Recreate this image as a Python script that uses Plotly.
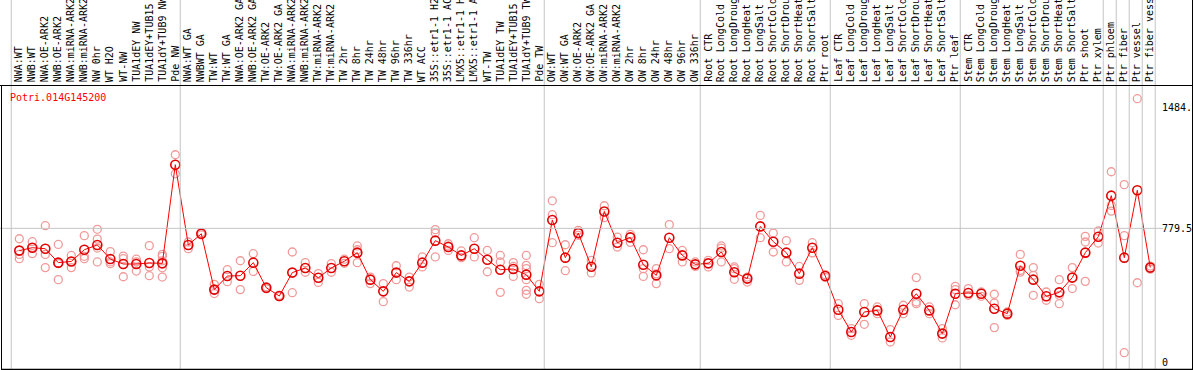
import plotly.graph_objects as go

labels = [
    "NWA:WT", "NWB:WT", "NWA:OE-ARK2", "NWB:OE-ARK2", "NWA:miRNA-ARK2", "NWB:miRNA-ARK2",
    "NW 0hr", "WT H2O", "WT-NW", "TUA1dEY NW", "TUA1dEY+TUB15 NW", "TUA1dY+TUB9 NW", "Pde NW",
    "NWA:WT GA", "NWBWT GA", "TW:WT", "TW:WT GA", "NWA:OE-ARK2 GA", "NWB:OE-ARK2 GA",
    "TW:OE-ARK2", "TW:OE-ARK2 GA", "NWA:miRNA-ARK2 GA", "NWB:miRNA-ARK2 GA", "TW:miRNA-ARK2",
    "TW:miRNA-ARK2 GA", "TW 2hr", "TW 8hr", "TW 24hr", "TW 48hr", "TW 96hr", "TW 336hr",
    "WT ACC", "35S::etr1-1 H2O", "35S::etr1-1 ACC", "LMX5::etr1-1 H2O", "LMX5::etr1-1 ACC",
    "WT-TW", "TUA1dEY TW", "TUA1dEY+TUB15 TW", "TUA1dY+TUB9 TW", "Pde TW",
    "OW:WT", "OW:WT GA", "OW:OE-ARK2", "OW:OE-ARK2 GA", "OW:miRNA-ARK2", "OW:miRNA-ARK2 GA",
    "OW 2hr", "OW 8hr", "OW 24hr", "OW 48hr", "OW 96hr", "OW 336hr",
    "Root CTR", "Root LongCold", "Root LongDrought", "Root LongHeat", "Root LongSalt",
    "Root ShortCold", "Root ShortDrought", "Root ShortHeat", "Root ShortSalt", "Ptr root",
    "Leaf CTR", "Leaf LongCold", "Leaf LongDrought", "Leaf LongHeat", "Leaf LongSalt",
    "Leaf ShortCold", "Leaf ShortDrought", "Leaf ShortHeat", "Leaf ShortSalt", "Ptr leaf",
    "Stem CTR", "Stem LongCold", "Stem LongDrought", "Stem LongHeat", "Stem LongSalt",
    "Stem ShortCold", "Stem ShortDrought", "Stem ShortHeat", "Stem ShortSalt", "Ptr shoot",
    "Ptr xylem", "Ptr phloem", "Ptr fiber", "Ptr vessel", "Ptr fiber vessel",
]

means = [
    650, 667, 661, 580, 587, 655, 683, 601, 572, 572, 578, 576, 1150,
    683, 748, 423, 502, 504, 580, 434, 386, 522, 549, 492, 549, 588, 638, 481, 413,
    522, 471, 580, 708, 671, 622, 661, 597, 539, 543, 510, 413,
    828, 609, 752, 556, 878, 696, 727, 568, 506, 725, 622, 570,
    576, 642, 524, 487, 791, 702, 638, 516, 667, 502,
    306, 176, 293, 302, 147, 306, 399, 302, 167, 399,
    403, 399, 312, 283, 562, 481, 384, 407, 493, 638,
    731, 970, 609, 1001, 551,
]

replicates = [
    [719, 628, 603], [702, 667, 632], [795, 628, 551], [686, 575, 481], [622, 587, 551],
    [737, 617, 603], [774, 717, 665, 584], [644, 584, 574], [618, 603, 498], [600, 585, 531],
    [679, 555, 504], [628, 617, 590, 550, 496], [1208, 1097],
    [700, 661], [755, 741], [454, 420, 400], [539, 469], [591, 423], [632, 529], [440, 428],
    [390, 382], [642, 405], [580, 524], [516, 465], [574, 524], [600, 576], [677, 655, 580],
    [496, 458], [458, 353], [562, 481], [496, 438], [613, 555], [772, 752, 613],
    [690, 677, 651], [648, 609], [725, 613], [651, 527], [622, 584, 407], [580, 558, 500],
    [622, 564, 545, 481, 419, 396], [454, 370],
    [940, 859, 696], [684, 533], [768, 739], [593, 520], [911, 842], [729, 671], [745, 698],
    [655, 545, 500], [545, 515, 458], [801, 661], [651, 584], [584, 558],
    [593, 555], [677, 665, 584], [555, 545, 483], [496, 467], [855, 725], [752, 642],
    [708, 584], [558, 477], [696, 636], [510, 494],
    [341, 273], [196, 157], [341, 221], [322, 283], [190, 118], [332, 283], [493, 351, 341],
    [322, 283], [196, 142], [442, 423, 335],
    [429, 390], [409, 384], [396, 345, 202], [293, 273], [628, 535, 525], [551, 506, 390],
    [409, 361], [481, 390, 341], [551, 429], [733, 700, 471],
    [764, 694], [1109, 913, 880], [1034, 737, 56], [1534, 463], [560, 542],
]

group_ends = [0, 13, 41, 53, 63, 73, 84, 85, 86, 87, 88]
tick_vals = [0, 779.5, 1484]
tick_text = ["0", "779.5", "1484."]
gene_id = "Potri.014G145200"

W, H = 1194, 370
ML, MR, MT, MB = 1, 39, 86, 1
XMIN, XMAX = -0.408, 88.362
YMIN, YMAX = -39.0, 1608.0
PW, PH = W - ML - MR, H - MT - MB


def paper_x_col(c):
    return (c - XMIN) / (XMAX - XMIN)


def paper_x_pix(p):
    return (p - ML) / PW


def paper_y_pix(p):
    return (H - MB - p) / PH


def paper_y_val(v):
    return (v - YMIN) / (YMAX - YMIN)


xs = list(range(1, len(labels) + 1))
rep_x = [i + 1 for i, reps in enumerate(replicates) for _ in reps]
rep_y = [v for reps in replicates for v in reps]

fig = go.Figure()
fig.add_trace(go.Scatter(
    x=rep_x, y=rep_y, mode="markers",
    marker=dict(symbol="circle-open", size=8, color="#f09a9a", line=dict(width=1.3, color="#f09a9a")),
    hoverinfo="skip",
))
fig.add_trace(go.Scatter(
    x=xs, y=means, mode="lines+markers",
    line=dict(color="#ff0000", width=1),
    marker=dict(symbol="circle-open", size=9, color="#e00000", line=dict(width=1.6, color="#e00000")),
))

shapes = []
grey = "#c4c4c4"
for g in group_ends:
    xp = paper_x_col(g + 0.38)
    shapes.append(dict(type="line", xref="paper", yref="paper", x0=xp, x1=xp,
                       y0=0, y1=paper_y_pix(0), line=dict(color=grey, width=1)))
yp = paper_y_val(tick_vals[1])
shapes.append(dict(type="line", xref="paper", yref="paper", x0=paper_x_pix(0), x1=paper_x_pix(1163),
                   y0=yp, y1=yp, line=dict(color=grey, width=1)))
blk = "#000000"
shapes.append(dict(type="line", xref="paper", yref="paper", x0=paper_x_pix(0), x1=paper_x_pix(1192.5),
                   y0=paper_y_pix(85.5), y1=paper_y_pix(85.5), line=dict(color=blk, width=1)))
shapes.append(dict(type="line", xref="paper", yref="paper", x0=paper_x_pix(1.5), x1=paper_x_pix(1192.5),
                   y0=paper_y_pix(369.5), y1=paper_y_pix(369.5), line=dict(color=blk, width=1.5)))
shapes.append(dict(type="line", xref="paper", yref="paper", x0=paper_x_pix(1.5), x1=paper_x_pix(1.5),
                   y0=paper_y_pix(85.5), y1=paper_y_pix(370), line=dict(color=blk, width=1)))
shapes.append(dict(type="line", xref="paper", yref="paper", x0=paper_x_pix(1192.5), x1=paper_x_pix(1192.5),
                   y0=paper_y_pix(0), y1=paper_y_pix(370), line=dict(color=blk, width=1)))

annotations = []
mono = "DejaVu Sans Mono"
for i, lab in enumerate(labels):
    annotations.append(dict(
        text=lab, x=i + 1, xref="x", y=paper_y_pix(83), yref="paper",
        xanchor="center", yanchor="bottom", textangle=-90, showarrow=False,
        borderpad=0, font=dict(family=mono, size=10, color="black"),
    ))
annotations.append(dict(
    text=gene_id, x=paper_x_pix(8.5), xref="paper", y=paper_y_pix(97), yref="paper",
    xanchor="left", yanchor="middle", showarrow=False, borderpad=0,
    font=dict(family=mono, size=10, color="#ff0000"),
))

fig.update_layout(
    width=W, height=H,
    margin=dict(l=ML, r=MR, t=MT, b=MB, pad=0),
    paper_bgcolor="white", plot_bgcolor="white",
    showlegend=False,
    xaxis=dict(range=[XMIN, XMAX], visible=False, showgrid=False, zeroline=False),
    yaxis=dict(range=[YMIN, YMAX], side="right", tickvals=tick_vals, ticktext=tick_text,
               showgrid=False, zeroline=False, showline=False, ticks="",
               ticklabelstandoff=6,
               tickfont=dict(family=mono, size=10, color="black")),
    shapes=shapes,
    annotations=annotations,
)

fig.write_html("out.html", config={"displayModeBar": False},
               post_script="document.body.style.margin='0';document.body.style.overflow='hidden';")
